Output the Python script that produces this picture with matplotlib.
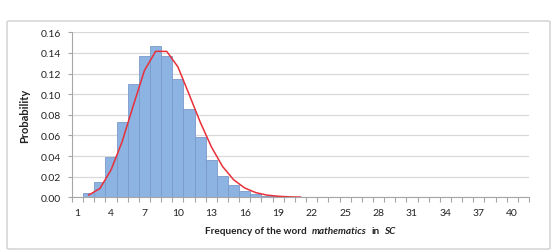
import numpy as np
import matplotlib
matplotlib.use("Agg")
import matplotlib.pyplot as plt
from matplotlib.patches import FancyBboxPatch
from matplotlib.offsetbox import TextArea, HPacker, AnchoredOffsetbox

# observed probabilities, frequency 1..27
freq = np.arange(1, 28)
observed = [0.0, 0.0039, 0.0151, 0.0390, 0.0730, 0.1096, 0.1370, 0.1467, 0.1370,
            0.1148, 0.0857, 0.0588, 0.0365, 0.0210, 0.0119, 0.0064, 0.0032,
            0.0015, 0.0008, 0.0004, 0.0003, 0.0002, 0.0002, 0.0001, 0.0001,
            0.0001, 0.0001]
# fitted curve, frequency 2..21
fit_freq = np.arange(2, 22)
fitted = [0.0022, 0.0085, 0.0265, 0.0540, 0.0890, 0.1230, 0.1415, 0.1415,
          0.1265, 0.1000, 0.0730, 0.0490, 0.0300, 0.0170, 0.0090, 0.0045,
          0.0021, 0.0010, 0.0004, 0.0002]

xticks = np.arange(1, 41, 3)
yticks = np.arange(0, 0.161, 0.02)

plt.rcParams['font.family'] = ['Lato', 'DejaVu Sans']

fig = plt.figure(figsize=(5.58, 2.53), dpi=100)
W, H = 558, 253

# outer chart border
fig.patches.append(FancyBboxPatch((7 / W, 3 / H), 543 / W, 228 / H,
                                  boxstyle="round,pad=0,rounding_size=0.004",
                                  transform=fig.transFigure, facecolor='none',
                                  edgecolor='#CFCFCF', linewidth=1.0))

ax = fig.add_axes([72 / W, (H - 198.3) / H, 457 / W, 165 / H])
ax.bar(freq, observed, width=1.0, color='#8DB3E2', edgecolor='#7A9BC9',
       linewidth=0.6, zorder=2)
ax.plot(fit_freq, fitted, color='#E8303A', linewidth=1.1, zorder=3)

ax.set_xlim(0.5, 41.5)
ax.set_ylim(0, 0.16)
ax.set_xticks(xticks)
ax.set_xticks(np.arange(0.5, 42, 1), minor=True)
ax.set_yticks(yticks)
ax.set_yticklabels([f"{v:.2f}" for v in yticks])
ax.tick_params(axis='x', which='major', length=0, pad=8, labelsize=7.5,
               labelcolor='#222222')
ax.tick_params(axis='x', which='minor', length=3.5, color='#A6A6A6', width=0.8)
ax.tick_params(axis='y', length=3, color='#A6A6A6', width=0.8, pad=5,
               labelsize=7.5, labelcolor='#222222')

ax.grid(axis='y', color='#D9D9D9', linewidth=0.9, zorder=0)
ax.set_axisbelow(True)
for side in ['top', 'right']:
    ax.spines[side].set_visible(False)
for side in ['left', 'bottom']:
    ax.spines[side].set_color('#A6A6A6')
    ax.spines[side].set_linewidth(0.8)
ax.spines['bottom'].set_zorder(4)

fig.text(25 / W, (H - 115.8) / H, "Probability", rotation=90, ha='center',
         va='center', fontsize=8, fontweight='bold', color='#222222')

# x label with italic parts
kw = dict(fontsize=7.2, fontweight='bold', color='#222222')
parts = [TextArea("Frequency of the word", textprops=kw),
         TextArea("mathematics", textprops=dict(kw, fontstyle='italic')),
         TextArea("in", textprops=kw),
         TextArea("SC", textprops=dict(kw, fontstyle='italic'))]
box = HPacker(children=parts, align='baseline', pad=0, sep=3.5)
anchored = AnchoredOffsetbox(loc='center', child=box, frameon=False,
                             bbox_to_anchor=(300.5 / W, (H - 232) / H),
                             bbox_transform=fig.transFigure, borderpad=0, pad=0)
fig.add_artist(anchored)

fig.savefig("out.png", dpi=100, facecolor='white')
